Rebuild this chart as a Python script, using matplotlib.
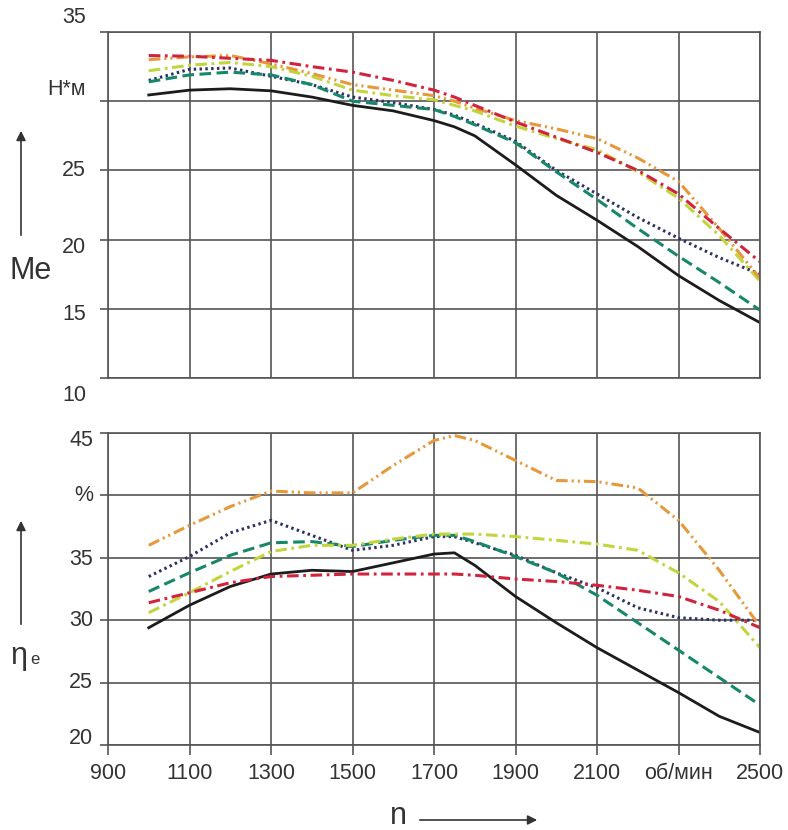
import matplotlib
matplotlib.use("Agg")
import matplotlib.pyplot as plt
from matplotlib.patches import FancyArrowPatch
from matplotlib.transforms import ScaledTranslation, blended_transform_factory

plt.rcParams['font.family'] = ['Liberation Sans', 'DejaVu Sans']

# engine speed, rpm
n = [1000, 1100, 1200, 1300, 1400, 1500, 1600, 1700, 1750, 1800,
     1900, 2000, 2100, 2200, 2300, 2400, 2500]

# effective torque Me, N*m
me_black = [30.45, 30.8, 30.9, 30.75, 30.3, 29.7, 29.3, 28.6, 28.15, 27.5,
            25.4, 23.2, 21.4, 19.5, 17.4, 15.6, 14.0]
me_navy = [31.5, 32.3, 32.4, 31.8, 31.2, 30.3, 29.9, 29.4, 29.0, 28.4,
           27.1, 25.0, 23.3, 21.6, 20.1, 18.7, 17.5]
me_teal = [31.4, 31.9, 32.1, 31.9, 31.2, 30.0, 29.7, 29.4, 28.9, 28.3,
           27.0, 24.9, 22.9, 20.8, 18.8, 16.9, 14.9]
me_lime = [32.2, 32.6, 32.8, 32.5, 31.8, 30.8, 30.4, 30.1, 29.7, 29.3,
           28.2, 27.3, 26.5, 24.9, 23.0, 20.3, 17.0]
me_orange = [33.0, 33.2, 33.3, 32.7, 32.0, 31.2, 30.8, 30.4, 30.0, 29.5,
             28.6, 28.0, 27.3, 25.9, 24.2, 20.8, 17.2]
me_red = [33.3, 33.25, 33.1, 32.95, 32.5, 32.1, 31.5, 30.8, 30.3, 29.7,
          28.5, 27.4, 26.3, 25.0, 23.3, 20.8, 18.4]

# effective efficiency, %
eta_black = [29.4, 31.2, 32.7, 33.7, 34.0, 33.9, 34.6, 35.3, 35.4, 34.4,
             31.9, 29.8, 27.8, 26.0, 24.2, 22.3, 21.0]
eta_navy = [33.5, 35.1, 37.0, 38.0, 36.8, 35.6, 36.0, 36.7, 36.7, 36.2,
            35.2, 33.8, 32.6, 31.0, 30.2, 30.0, 30.0]
eta_teal = [32.3, 33.8, 35.2, 36.2, 36.3, 35.9, 36.4, 36.8, 36.8, 36.3,
            35.1, 33.8, 32.0, 29.8, 27.6, 25.4, 23.2]
eta_lime = [30.6, 32.2, 33.9, 35.5, 36.0, 36.0, 36.5, 36.9, 36.9, 36.9,
            36.7, 36.4, 36.1, 35.6, 33.8, 31.5, 27.8]
eta_orange = [36.0, 37.6, 39.1, 40.35, 40.2, 40.2, 42.4, 44.4, 44.8, 44.4,
              42.8, 41.2, 41.1, 40.6, 38.0, 34.0, 29.5]
eta_red = [31.4, 32.2, 33.0, 33.5, 33.6, 33.7, 33.7, 33.7, 33.7, 33.6,
           33.3, 33.1, 32.8, 32.4, 31.9, 30.8, 29.4]

x_ticks = [900, 1100, 1300, 1500, 1700, 1900, 2100, 2300, 2500]
x_labels = ['900', '1100', '1300', '1500', '1700', '1900', '2100', 'об/мин', '2500']
me_ticks = [10, 15, 20, 25, 30, 35]
me_labels = ['10', '15', '20', '25', 'Н*м', '35']
eta_ticks = [20, 25, 30, 35, 40, 45]
eta_labels = ['20', '25', '30', '35', '%', '45']

styles = [
    dict(color='#1c1c1c', ls='-', lw=2.0),
    dict(color='#2d3266', ls=(0, (0.8, 1.1)), lw=2.2),
    dict(color='#17876a', ls=(0, (3.8, 1.8)), lw=2.2),
    dict(color='#c3d43c', ls=(0, (3.8, 1.5, 0.9, 1.5)), lw=2.2),
    dict(color='#e6983a', ls=(0, (3.8, 1.3, 0.7, 1.3, 0.7, 1.3)), lw=2.2),
    dict(color='#d1223e', ls=(0, (3.8, 1.5, 0.9, 1.5)), lw=2.2),
]

grid_c = '#555555'
text_c = '#333333'

fig = plt.figure(figsize=(7.88, 8.3), dpi=100)
W, H = 788, 830
ax1 = fig.add_axes([108 / W, 1 - 378 / H, 652 / W, 346 / H])
ax2 = fig.add_axes([108 / W, 1 - 745 / H, 652 / W, 312 / H])


def setup(ax, yticks, ylim):
    ax.set_xlim(900, 2500)
    ax.set_ylim(*ylim)
    ax.set_xticks(x_ticks)
    ax.set_yticks(yticks)
    ax.grid(True, color=grid_c, lw=1.2)
    ax.set_axisbelow(True)
    for s in ax.spines.values():
        s.set_color(grid_c)
        s.set_linewidth(1.2)
    ax.tick_params(axis='y', length=6, width=1.2, color=grid_c, labelleft=False)


def ylabels(ax, ticks, labels, offsets, right_px):
    tr = blended_transform_factory(fig.transFigure, ax.transData)
    for t, lab, off in zip(ticks, labels, offsets):
        shift = ScaledTranslation(0, -off / 100, fig.dpi_scale_trans)
        ax.text(right_px / W, t, lab, transform=tr + shift, ha='right', va='center',
                fontsize=15.5, color=text_c)


setup(ax1, me_ticks, (10, 35))
setup(ax2, eta_ticks, (20, 45))
ax1.tick_params(axis='x', length=0, labelbottom=False)
ax2.set_xticklabels(x_labels)
ax2.tick_params(axis='x', length=7, width=1.2, color=grid_c, pad=6,
                labelsize=15.5, labelcolor=text_c)

ylabels(ax1, me_ticks, me_labels, [17, 6, 8, 0, -12, -15], 86)
ylabels(ax2, eta_ticks, eta_labels, [-7, 0, 0, 2, 0, 8], 93)

for vals, st in zip([me_black, me_navy, me_teal, me_lime, me_orange, me_red], styles):
    ax1.plot(n, vals, solid_joinstyle='round', **st)
for vals, st in zip([eta_black, eta_navy, eta_teal, eta_lime, eta_orange, eta_red], styles):
    ax2.plot(n, vals, solid_joinstyle='round', **st)


def arrow(x0, y0, x1, y1):
    fig.add_artist(FancyArrowPatch((x0 / W, 1 - y0 / H), (x1 / W, 1 - y1 / H),
                                   transform=fig.transFigure, arrowstyle='-|>',
                                   mutation_scale=14, color=text_c, lw=1.2))


# axis captions with arrows
arrow(21, 238, 21, 128)
fig.text(31 / W, 1 - 271 / H, 'Me', fontsize=22, color=text_c, ha='center', va='center')
arrow(21, 627, 21, 518)
fig.text(19 / W, 1 - 656 / H, 'η', fontsize=22, color=text_c, ha='center', va='center')
fig.text(35 / W, 1 - 659 / H, 'e', fontsize=12, color=text_c, ha='center', va='center')
fig.text(398 / W, 1 - 816 / H, 'n', fontsize=22, color=text_c, ha='center', va='center')
arrow(417, 820, 540, 820)

fig.savefig('out.png', dpi=100, facecolor='white')
